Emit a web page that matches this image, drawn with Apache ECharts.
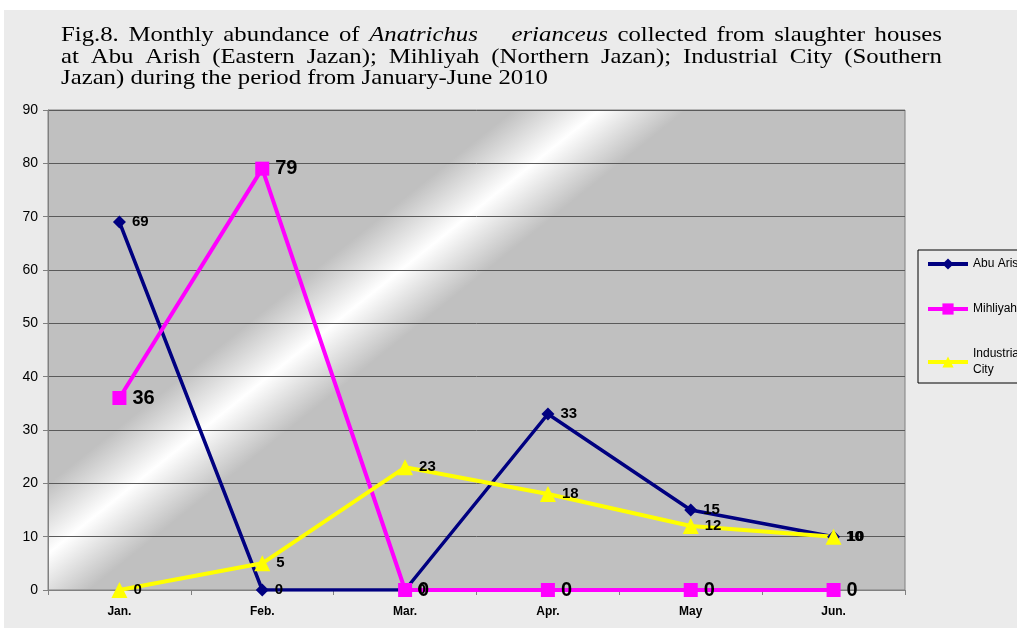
<!DOCTYPE html>
<html>
<head>
<meta charset="utf-8">
<style>
html, body { margin: 0; padding: 0; background: #fff; }
#main { width: 1017px; height: 628px; }
</style>
<script src="https://cdn.jsdelivr.net/npm/echarts@6/dist/echarts.min.js"></script>
</head>
<body>
<div id="main"></div>
<script>
// data
var months = ['Jan.', 'Feb.', 'Mar.', 'Apr.', 'May', 'Jun.'];
var abuArish = [69, 0, 0, 33, 15, 10];
var mihliyah = [36, 79, 0, 0, 0, 0];
var industrialCity = [0, 5, 23, 18, 12, 10];
var yTicks = { min: 0, max: 90, interval: 10 };

// caption, word by word: [text, italic, gap weight before]
var captionLine1 = [['Fig.8.'], ['Monthly'], ['abundance'], ['of'], ['Anatrichus', true],
    ['erianceus', true, 3.5], ['collected'], ['from'], ['slaughter'], ['houses']];
var captionLine2 = [['at'], ['Abu'], ['Arish'], ['(Eastern'], ['Jazan);'], ['Mihliyah'],
    ['(Northern'], ['Jazan);'], ['Industrial'], ['City'], ['(Southern']];
var captionLine3 = 'Jazan) during the period from January-June 2010';

var serif = '"Liberation Serif", "Times New Roman", serif';
var sans = '"Liberation Sans", Arial, sans-serif';
var capSize = 21;

var ctx = document.createElement('canvas').getContext('2d');
function measure(txt, italic) {
    ctx.font = (italic ? 'italic ' : '') + capSize + 'px ' + serif;
    return ctx.measureText(txt).width;
}

// squeeze the caption horizontally the way the scanned figure is
var sx = 487 / measure(captionLine3);
var capLeft = 61, capRight = 942;

function textEl(txt, x, y, italic) {
    return {
        type: 'text', x: x, y: y, scaleX: sx, z: 10,
        style: {
            text: txt, fill: '#000', fontSize: capSize, fontFamily: serif,
            fontStyle: italic ? 'italic' : 'normal', verticalAlign: 'middle'
        }
    };
}

//把一行文字两端对齐
function justify(words, y) {
    var total = 0, weights = 0;
    for (var i = 0; i < words.length; i++) {
        total += measure(words[i][0], words[i][1]) * sx;
        if (i > 0) weights += words[i][2] || 1;
    }
    var gap = (capRight - capLeft - total) / weights;
    var els = [], x = capLeft;
    for (var j = 0; j < words.length; j++) {
        if (j > 0) x += gap * (words[j][2] || 1);
        els.push(textEl(words[j][0], x, y, words[j][1]));
        x += measure(words[j][0], words[j][1]) * sx;
    }
    return els;
}

var graphics = [{
    type: 'rect', z: -1,
    shape: { x: 4, y: 10, width: 1013, height: 618 },
    style: { fill: '#ebebeb' }
}];
graphics = graphics.concat(justify(captionLine1, 35), justify(captionLine2, 57));
graphics.push(textEl(captionLine3, capLeft, 78, false));

// 灰色底上的一道白色斜光
var cx = 320, cy = 335, ux = 0.627, uy = 0.78, half = 300;
var plotFill = new echarts.graphic.LinearGradient(
    cx - ux * half, cy - uy * half, cx + ux * half, cy + uy * half, [
        { offset: 0, color: '#c0c0c0' },
        { offset: 0.41, color: '#c0c0c0' },
        { offset: 0.5, color: '#ffffff' },
        { offset: 0.59, color: '#c0c0c0' },
        { offset: 1, color: '#c0c0c0' }
    ], true);

function lineSeries(name, data, color, width, symbol, size, labelSize) {
    return {
        name: name,
        type: 'line',
        data: data,
        symbol: symbol,
        symbolSize: size,
        lineStyle: { color: color, width: width },
        itemStyle: { color: color },
        label: {
            show: true,
            position: 'right',
            distance: 6,
            color: '#000',
            fontWeight: 'bold',
            fontSize: labelSize,
            fontFamily: sans
        },
        emphasis: { disabled: true },
        animation: false
    };
}

var myChart = echarts.init(document.getElementById('main'));
myChart.setOption({
    backgroundColor: '#fff',
    animation: false,
    graphic: graphics,
    grid: {
        left: 48, right: 112, top: 110, bottom: 38,
        show: true,
        backgroundColor: plotFill,
        borderColor: '#808080',
        borderWidth: 1
    },
    legend: {
        orient: 'vertical',
        left: 918,
        top: 250,
        padding: [6, 10, 5, 8],
        itemGap: 29,
        itemWidth: 40,
        itemHeight: 14,
        backgroundColor: '#ebebeb',
        borderColor: '#000',
        borderWidth: 1,
        borderRadius: 0,
        lineStyle: { width: 4 },
        textStyle: { color: '#000', fontSize: 12, fontFamily: sans, lineHeight: 16 },
        data: ['Abu Arish', 'Mihliyah', 'Industrial\nCity']
    },
    xAxis: {
        type: 'category',
        data: months,
        boundaryGap: true,
        axisLine: { lineStyle: { color: '#808080', width: 1 } },
        axisTick: { show: true, length: 5, lineStyle: { color: '#808080' } },
        axisLabel: { color: '#000', fontWeight: 'bold', fontSize: 12, fontFamily: sans, margin: 16 }
    },
    yAxis: {
        type: 'value',
        min: yTicks.min,
        max: yTicks.max,
        interval: yTicks.interval,
        axisLine: { show: true, lineStyle: { color: '#808080', width: 1 } },
        axisTick: { show: true, length: 5, lineStyle: { color: '#808080' } },
        axisLabel: { color: '#000', fontSize: 14, fontFamily: sans, margin: 10 },
        splitLine: { show: true, lineStyle: { color: '#5a5a5a', width: 1 } }
    },
    series: [
        lineSeries('Abu Arish', abuArish, '#000080', 3.5, 'diamond', 13, 15),
        lineSeries('Mihliyah', mihliyah, '#ff00ff', 4, 'rect', 14, 20),
        lineSeries('Industrial\nCity', industrialCity, '#ffff00', 4, 'triangle', 16, 15)
    ]
});
</script>
</body>
</html>
